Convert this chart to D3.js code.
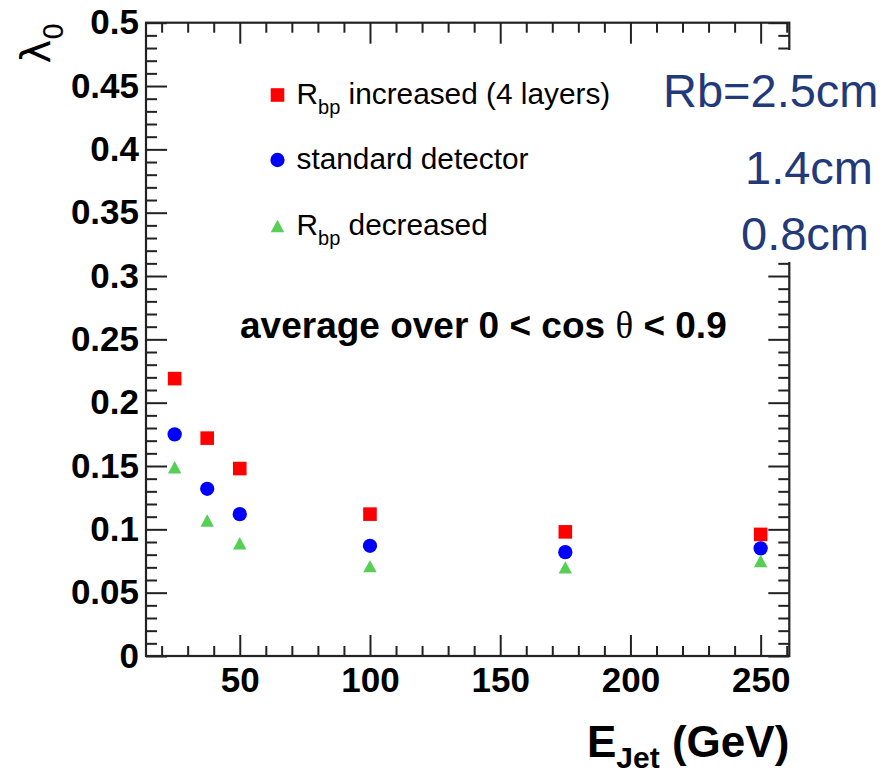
<!DOCTYPE html>
<html>
<head>
<meta charset="utf-8">
<script src="https://cdn.jsdelivr.net/npm/d3@7"></script>
<style>
  body { margin: 0; background: #fff; }
  svg { display: block; }
</style>
</head>
<body>
<script>
// jet energies (GeV)
var energies = [25, 37.5, 50, 100, 175, 250];

// lambda_0 for the three beam pipe radii
var increased = [0.219, 0.172, 0.148, 0.112, 0.098, 0.096];
var standard  = [0.175, 0.132, 0.112, 0.087, 0.082, 0.085];
var decreased = [0.149, 0.107, 0.089, 0.071, 0.070, 0.075];

var yMajor = [0, 0.05, 0.1, 0.15, 0.2, 0.25, 0.3, 0.35, 0.4, 0.45, 0.5];
var yLabels = ["0", "0.05", "0.1", "0.15", "0.2", "0.25", "0.3", "0.35", "0.4", "0.45", "0.5"];
var xMajor = [50, 100, 150, 200, 250];
var xLabels = ["50", "100", "150", "200", "250"];

var legendNames = [
  { main: "R", sub: "bp", rest: " increased (4 layers)" },
  { main: "standard detector", sub: "", rest: "" },
  { main: "R", sub: "bp", rest: " decreased" }
];
var radii = ["Rb=2.5cm", "1.4cm", "0.8cm"];

var width = 893, height = 770;
var mLeft = 146, mRight = 789.3, mTop = 22.7, mBottom = 656;
var font = "'Liberation Sans', Arial, Helvetica, sans-serif";

var svg = d3.select("body").append("svg")
            .attr("width", width)
            .attr("height", height)

var x = d3.scaleLinear().domain([14, 261]).range([mLeft, mRight]);
var y = d3.scaleLinear().domain([0, 0.5]).range([mBottom, mTop]);

var xMinor = d3.range(20, 261, 10).filter(function (d){ return d % 50 != 0 });
var yMinor = d3.range(0, 51).map(function (d){ return d / 100 }).filter(function (d, i){ return i % 5 != 0 });

function styleAxis(g, w) {
  g.select(".domain").remove();
  g.selectAll(".tick line").attr("stroke", "#222").attr("stroke-width", w);
  g.selectAll(".tick text")
    .attr("font-family", font)
    .attr("font-weight", "bold")
    .attr("font-size", 35)
    .attr("fill", "#000");
}

// left axis
svg.append("g").attr("transform", "translate(" + mLeft + ",0)")
  .call(d3.axisLeft(y).tickValues(yMajor).tickSizeInner(-21).tickSizeOuter(0).tickPadding(7)
        .tickFormat(function (d, i){ return yLabels[i] }))
  .call(styleAxis, 2);
svg.append("g").attr("transform", "translate(" + mLeft + ",0)")
  .call(d3.axisLeft(y).tickValues(yMinor).tickSizeInner(-11).tickSizeOuter(0).tickFormat(""))
  .call(styleAxis, 2);

// right axis (ticks only)
svg.append("g").attr("transform", "translate(" + mRight + ",0)")
  .call(d3.axisRight(y).tickValues(yMajor).tickSizeInner(-21).tickSizeOuter(0).tickFormat(""))
  .call(styleAxis, 2);
svg.append("g").attr("transform", "translate(" + mRight + ",0)")
  .call(d3.axisRight(y).tickValues(yMinor).tickSizeInner(-11).tickSizeOuter(0).tickFormat(""))
  .call(styleAxis, 2);

// bottom axis
svg.append("g").attr("transform", "translate(0," + mBottom + ")")
  .call(d3.axisBottom(x).tickValues(xMajor).tickSizeInner(-21).tickSizeOuter(0).tickPadding(11)
        .tickFormat(function (d, i){ return xLabels[i] }))
  .call(styleAxis, 2);
svg.append("g").attr("transform", "translate(0," + mBottom + ")")
  .call(d3.axisBottom(x).tickValues(xMinor).tickSizeInner(-10).tickSizeOuter(0).tickFormat(""))
  .call(styleAxis, 2);

// top axis (ticks only)
svg.append("g").attr("transform", "translate(0," + mTop + ")")
  .call(d3.axisTop(x).tickValues(xMajor).tickSizeInner(-21).tickSizeOuter(0).tickFormat(""))
  .call(styleAxis, 2);
svg.append("g").attr("transform", "translate(0," + mTop + ")")
  .call(d3.axisTop(x).tickValues(xMinor).tickSizeInner(-10).tickSizeOuter(0).tickFormat(""))
  .call(styleAxis, 2);

// frame
svg.append("rect")
  .attr("x", mLeft).attr("y", mTop)
  .attr("width", mRight - mLeft).attr("height", mBottom - mTop)
  .attr("fill", "none").attr("stroke", "#222").attr("stroke-width", 2.2)

// triangle centred on its bounding box, like ROOT marker 22
var triangleBox = {
  draw: function (ctx, size) {
    var r = Math.sqrt(size) / 2;
    ctx.moveTo(-r, r * 0.92);
    ctx.lineTo(r, r * 0.92);
    ctx.lineTo(0, -r * 0.92);
    ctx.closePath();
  }
};

var series = [
  { values: increased, type: d3.symbolSquare, size: 185, color: "#ff0000" },
  { values: standard,  type: d3.symbolCircle, size: 160, color: "#0000ff" },
  { values: decreased, type: triangleBox,     size: 180, color: "#55d055" }
];

series.forEach(function (s){
  svg.append("g").selectAll("path")
    .data(s.values)
    .enter()
    .append("path")
      .attr("d", d3.symbol().type(s.type).size(s.size))
      .attr("transform", function (d, i){ return "translate(" + x(energies[i]) + "," + y(d) + ")" })
      .attr("fill", s.color)
});

// legend
var legendY = [95, 160, 226];
var legend = svg.append("g");
series.forEach(function (s, i){
  var row = legend.append("g").attr("transform", "translate(277.5," + legendY[i] + ")");
  row.append("path")
    .attr("d", d3.symbol().type(s.type).size(s.size))
    .attr("fill", s.color);
  var t = row.append("text")
    .attr("x", 19).attr("y", 9)
    .attr("font-family", font)
    .attr("font-size", 29.8)
    .attr("fill", "#000");
  t.append("tspan").text(legendNames[i].main);
  if (legendNames[i].sub) {
    t.append("tspan").attr("dy", 10).attr("font-size", 20).text(legendNames[i].sub);
    t.append("tspan").attr("dy", -10).text(legendNames[i].rest);
  }
});

// annotation
var ann = svg.append("text")
  .attr("x", 240).attr("y", 338)
  .attr("font-family", font)
  .attr("font-weight", "bold")
  .attr("font-size", 37)
  .attr("fill", "#000");
ann.append("tspan").text("average over 0 < cos ");
ann.append("tspan").attr("font-weight", "normal").attr("font-family", "'Liberation Serif', serif").text("θ");
ann.append("tspan").text(" < 0.9");

// axis titles
var xt = svg.append("text")
  .attr("x", mRight).attr("y", 757)
  .attr("text-anchor", "end")
  .attr("font-family", font)
  .attr("font-weight", "bold")
  .attr("font-size", 44)
  .attr("fill", "#000");
xt.append("tspan").text("E");
xt.append("tspan").attr("dy", 11).attr("font-size", 30).text("Jet");
xt.append("tspan").attr("dy", -11).text(" (GeV)");

var yt = svg.append("text")
  .attr("transform", "translate(50," + mTop + ") rotate(-90)")
  .attr("text-anchor", "end")
  .attr("font-family", "'DejaVu Sans', sans-serif")
  .attr("font-size", 40)
  .attr("fill", "#000");
yt.append("tspan").text("λ");
yt.append("tspan").attr("dy", 13).attr("font-size", 27).text("0");

// beam pipe radii, pasted on white boxes that hide part of the right axis
svg.append("rect")
  .attr("x", 640).attr("y", 50)
  .attr("width", width - 640).attr("height", 212)
  .attr("fill", "#fff")

var radX = [663, 745, 741];
var radY = [107, 184, 250];
svg.append("g").selectAll("text")
  .data(radii)
  .enter()
  .append("text")
    .attr("x", function (d, i){ return radX[i] })
    .attr("y", function (d, i){ return radY[i] })
    .attr("font-family", font)
    .attr("font-size", 47)
    .attr("fill", "#22397a")
    .text(function (d){ return d })
</script>
</body>
</html>
